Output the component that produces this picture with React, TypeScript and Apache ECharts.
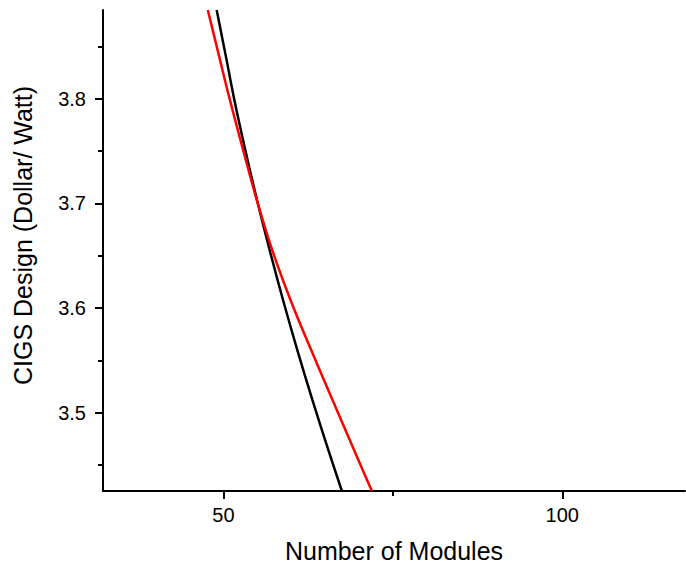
import React, { useEffect, useRef } from "react";
import * as echarts from "echarts";

// Data
const blackX = [49.01, 50.47, 51.62, 53.23, 54.96, 56.82, 58.8, 60.91, 63.14, 65.49, 67.48];
const blackY = [3.885, 3.8373, 3.799, 3.7512, 3.7033, 3.6555, 3.6077, 3.5598, 3.512, 3.4641, 3.425];
const redX = [47.7, 49.5, 50.96, 52.91, 54.93, 57.2, 59.9, 62.95, 66.1, 69.28, 71.91];
const redY = [3.885, 3.8373, 3.799, 3.7512, 3.7033, 3.6555, 3.6077, 3.5598, 3.512, 3.4641, 3.425];

const xMajorTicks = [50, 100];
const xMinorTicks = [75];
const yMajorTicks = [3.5, 3.6, 3.7, 3.8];
const yMinorTicks = [3.45, 3.55, 3.65, 3.75, 3.85];

const xMin = 32.24;
const xMax = 118.1;
const yMin = 3.425;
const yMax = 3.885;

const xName = "Number of Modules";
const yName = "CIGS Design (Dollar/ Watt)";

const FONT = "'Liberation Sans', Arial, sans-serif";

export default function App() {
  const ref = useRef<HTMLDivElement>(null);
  useEffect(() => {
    if (!ref.current) return;
    const chart = echarts.init(ref.current, null, { renderer: "svg" });
    const pair = (xs: number[], ys: number[]) => xs.map((x, i) => [x, ys[i]]);
    const axisLineStyle = { color: "#000", width: 2 };
    chart.setOption({
      animation: false,
      backgroundColor: "#fff",
      grid: { left: 103, right: 1, top: 10, bottom: 78, containLabel: false },
      xAxis: [
        {
          type: "value",
          min: xMin,
          max: xMax,
          name: xName,
          nameLocation: "middle",
          nameGap: 47,
          nameTextStyle: { fontSize: 25, color: "#000", fontFamily: FONT },
          axisLine: { show: true, onZero: false, lineStyle: axisLineStyle },
          axisTick: { show: true, inside: false, length: 8, lineStyle: { color: "#000", width: 2 }, customValues: xMajorTicks },
          axisLabel: { show: true, margin: 14, fontSize: 20, color: "#000", fontFamily: FONT, customValues: xMajorTicks },
          splitLine: { show: false },
        },
        {
          type: "value",
          min: xMin,
          max: xMax,
          position: "bottom",
          axisLine: { show: false, onZero: false },
          axisTick: { show: true, inside: false, length: 5, lineStyle: { color: "#000", width: 2 }, customValues: xMinorTicks },
          axisLabel: { show: false },
          splitLine: { show: false },
        },
      ],
      yAxis: [
        {
          type: "value",
          min: yMin,
          max: yMax,
          name: yName,
          nameLocation: "middle",
          nameGap: 68,
          nameRotate: 90,
          nameTextStyle: { fontSize: 25, color: "#000", fontFamily: FONT, padding: [0, 0, 0, 30] },
          axisLine: { show: true, onZero: false, lineStyle: axisLineStyle },
          axisTick: { show: true, inside: false, length: 8, lineStyle: { color: "#000", width: 2 }, customValues: yMajorTicks },
          axisLabel: {
            show: true,
            margin: 17,
            fontSize: 20,
            color: "#000",
            fontFamily: FONT,
            customValues: yMajorTicks,
            formatter: (v: number) => v.toFixed(1),
          },
          splitLine: { show: false },
        },
        {
          type: "value",
          min: yMin,
          max: yMax,
          position: "left",
          axisLine: { show: false, onZero: false },
          axisTick: { show: true, inside: false, length: 5, lineStyle: { color: "#000", width: 2 }, customValues: yMinorTicks },
          axisLabel: { show: false },
          splitLine: { show: false },
        },
      ],
      series: [
        {
          name: "black",
          type: "line",
          xAxisIndex: 0,
          yAxisIndex: 0,
          data: pair(blackX, blackY),
          showSymbol: false,
          smooth: 0.4,
          clip: true,
          lineStyle: { color: "#000000", width: 2.5 },
          z: 3,
        },
        {
          name: "red",
          type: "line",
          xAxisIndex: 0,
          yAxisIndex: 0,
          data: pair(redX, redY),
          showSymbol: false,
          smooth: 0.4,
          clip: true,
          lineStyle: { color: "#ff0000", width: 2.5 },
          z: 4,
        },
      ],
    });
    return () => chart.dispose();
  }, []);
  return (
    <div
      ref={ref}
      style={{ position: "fixed", left: 0, top: 0, width: 686, height: 569, background: "#fff" }}
    />
  );
}
